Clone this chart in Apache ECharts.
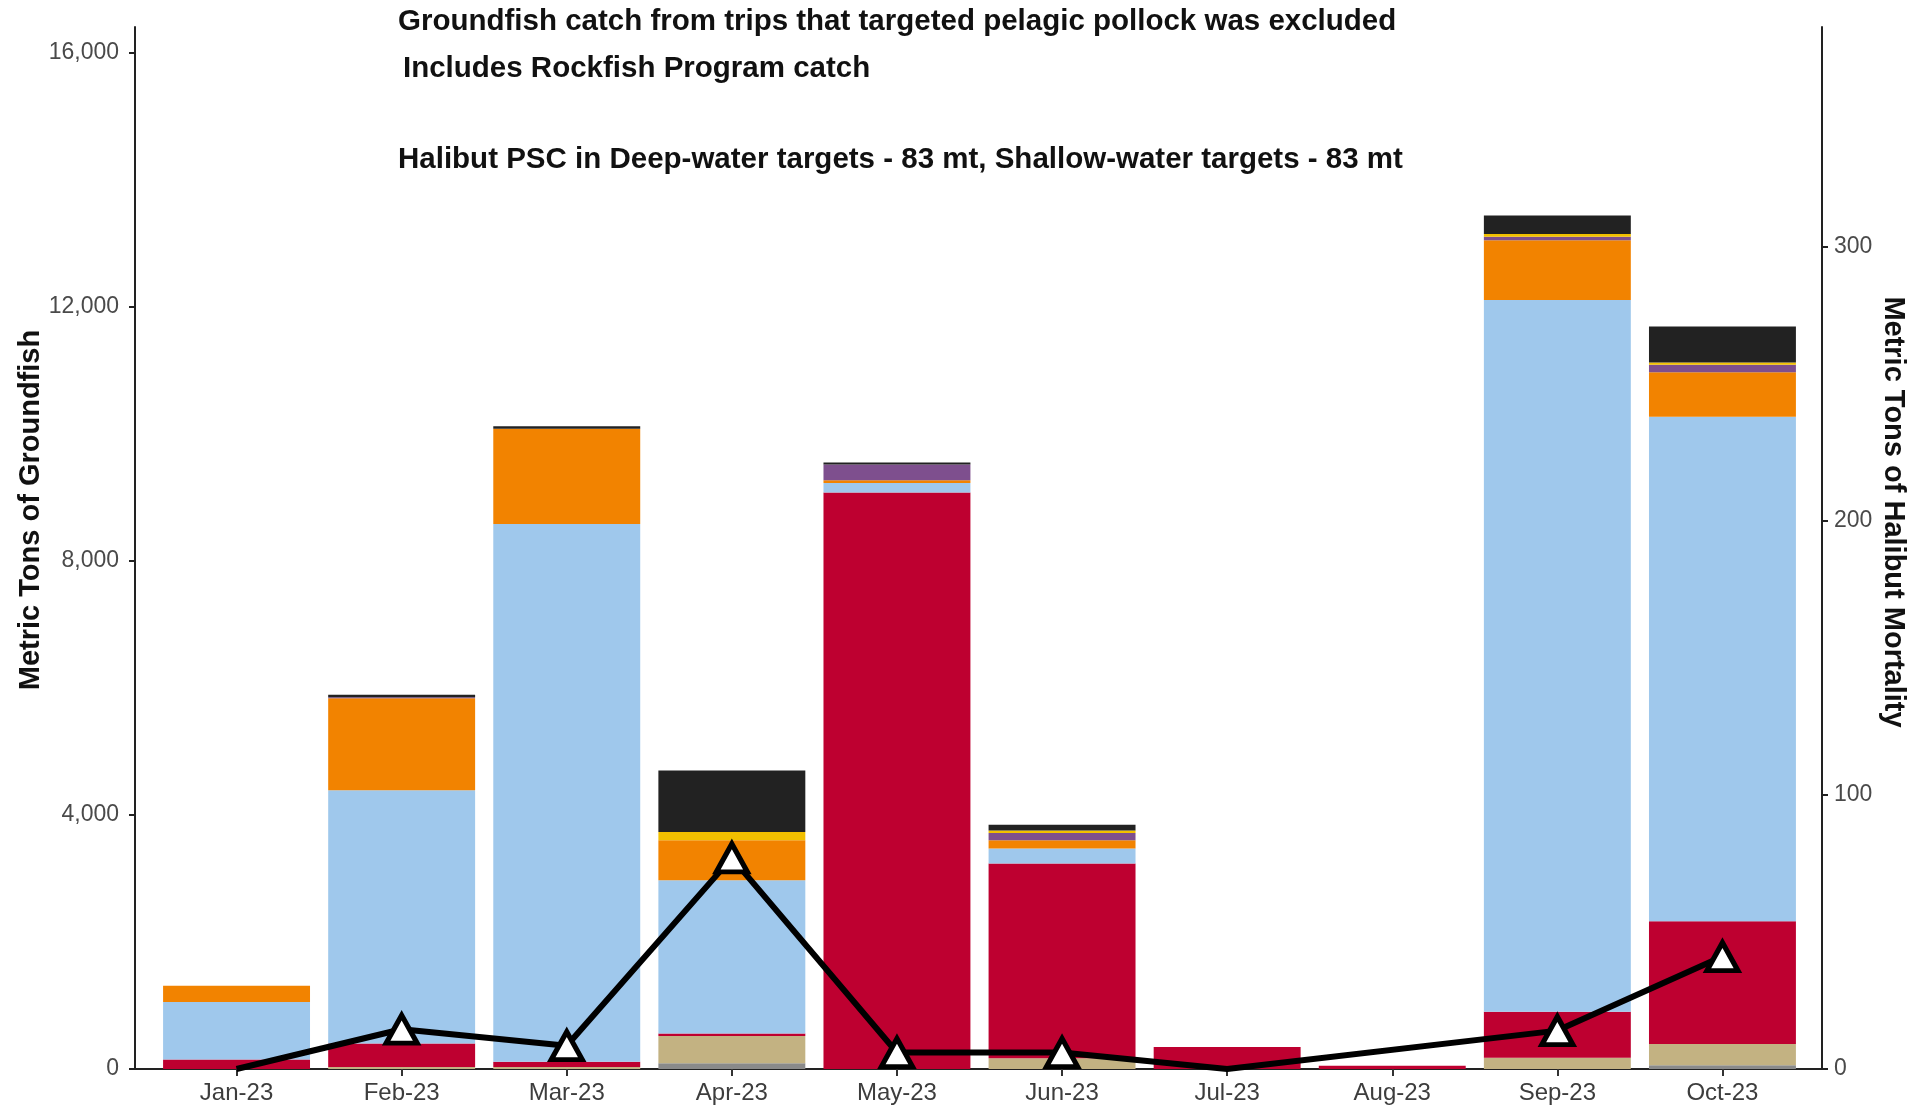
<!DOCTYPE html>
<html>
<head>
<meta charset="utf-8">
<script src="https://cdn.jsdelivr.net/npm/echarts@6/dist/echarts.min.js"></script>
<style>
html,body{margin:0;padding:0;background:#fff;}
#chart{width:1921px;height:1110px;}
</style>
</head>
<body>
<div id="chart"></div>
<script>
// ---- data ----
const months = ['Jan-23','Feb-23','Mar-23','Apr-23','May-23','Jun-23','Jul-23','Aug-23','Sep-23','Oct-23'];
const grey   = [0, 0, 0, 90, 0, 0, 0, 0, 0, 60];
const tan    = [0, 30, 30, 430, 0, 170, 0, 0, 178, 335];
const red    = [150, 370, 85, 40, 9075, 3065, 345, 52, 725, 1930];
const blue   = [905, 3986, 8463, 2410, 150, 235, 0, 0, 11200, 7940];
const orange = [255, 1450, 1500, 630, 40, 130, 0, 0, 940, 700];
const purple = [0, 15, 0, 0, 250, 115, 0, 0, 57, 120];
const yellow = [0, 0, 0, 130, 0, 40, 0, 0, 43, 35];
const black  = [0, 40, 40, 970, 30, 90, 0, 0, 290, 565];
const halibut = [0, 14.5, 8.5, 77, 6, 6, 0, null, 14, 41];
const leftTicks = [0, 4000, 8000, 12000, 16000];
const rightTicks = [0, 100, 200, 300];
const titleLines = [
  'Groundfish catch from trips that targeted pelagic pollock was excluded',
  'Includes Rockfish Program catch',
  'Halibut PSC in Deep-water targets - 83 mt, Shallow-water targets - 83 mt'
];
const leftName = 'Metric Tons of Groundfish';
const rightName = 'Metric Tons of Halibut Mortality';

// ---- chart ----
const chart = echarts.init(document.getElementById('chart'), null, {renderer:'canvas'});
const FONT = '"Liberation Sans", Arial, sans-serif';
const layers = [
  {name:'grey', data:grey, color:'#8a8a8a'},
  {name:'tan', data:tan, color:'#c3b282'},
  {name:'red', data:red, color:'#be0030'},
  {name:'blue', data:blue, color:'#9fc8ec'},
  {name:'orange', data:orange, color:'#f28300'},
  {name:'purple', data:purple, color:'#7e4f8e'},
  {name:'yellow', data:yellow, color:'#f2c000'},
  {name:'black', data:black, color:'#222222'}
];
const barSeries = layers.map(l => ({
  type:'bar', name:l.name, stack:'catch', data:l.data,
  xAxisIndex:0, yAxisIndex:0, barWidth:'89%',
  itemStyle:{color:l.color}, emphasis:{disabled:true}, z:2
}));

const option = {
  animation:false,
  backgroundColor:'#ffffff',
  title: [
    {text:titleLines[0], left:398, top:7},
    {text:titleLines[1], left:403, top:54},
    {text:titleLines[2], left:398, top:145}
  ].map(t => Object.assign(t, {padding:0, textStyle:{fontFamily:FONT, fontSize:29.5, fontWeight:'bold', color:'#111'}})),
  grid: [
    {left:154, right:116, top:27, bottom:41},
    {left:135, right:99, top:27, bottom:41}
  ],
  xAxis: [
    {type:'category', gridIndex:0, data:months,
     axisLine:{show:false},
     axisTick:{show:true, alignWithLabel:true, length:7, lineStyle:{color:'#333', width:2}},
     axisLabel:{fontFamily:FONT, fontSize:24, color:'#3d3d3d', margin:12},
     splitLine:{show:false}},
    {type:'value', gridIndex:1, min:0, max:1,
     axisLine:{show:true, onZero:false, lineStyle:{color:'#222', width:2}},
     axisTick:{show:false}, axisLabel:{show:false}, splitLine:{show:false}}
  ],
  yAxis: [
    {type:'value', gridIndex:0, position:'left', offset:19, min:0, max:16400,
     axisLine:{show:true, lineStyle:{color:'#222', width:2}},
     axisTick:{show:true, length:6, lineStyle:{color:'#222', width:2}, customValues:leftTicks},
     axisLabel:{fontFamily:FONT, fontSize:23, color:'#4a4a4a', margin:16, customValues:leftTicks,
       formatter:v => v.toLocaleString('en-US')},
     splitLine:{show:false}},
    {type:'value', gridIndex:0, position:'right', offset:17, min:0, max:380,
     axisLine:{show:true, lineStyle:{color:'#222', width:2}},
     axisTick:{show:true, length:6, lineStyle:{color:'#222', width:2}, customValues:rightTicks},
     axisLabel:{fontFamily:FONT, fontSize:23, color:'#4a4a4a', margin:12, customValues:rightTicks},
     splitLine:{show:false}},
    {type:'value', gridIndex:1, show:false, min:0, max:1, splitLine:{show:false}}
  ],
  graphic: [
    {type:'text', x:31, y:510, rotation:Math.PI/2,
     style:{text:leftName, font:'bold 29px '+FONT, fill:'#111', textAlign:'center', textVerticalAlign:'middle'}},
    {type:'text', x:1893, y:512, rotation:-Math.PI/2,
     style:{text:rightName, font:'bold 29px '+FONT, fill:'#111', textAlign:'center', textVerticalAlign:'middle'}}
  ],
  series: barSeries.concat([{
    type:'line', name:'halibut', data:halibut, xAxisIndex:0, yAxisIndex:1,
    connectNulls:true, symbol:'triangle',
    symbolSize:(v) => (v > 0 ? [31, 28] : 0),
    lineStyle:{color:'#000', width:6},
    itemStyle:{color:'#fff', borderColor:'#000', borderWidth:5},
    emphasis:{disabled:true}, z:5
  }])
};
chart.setOption(option);
</script>
</body>
</html>
